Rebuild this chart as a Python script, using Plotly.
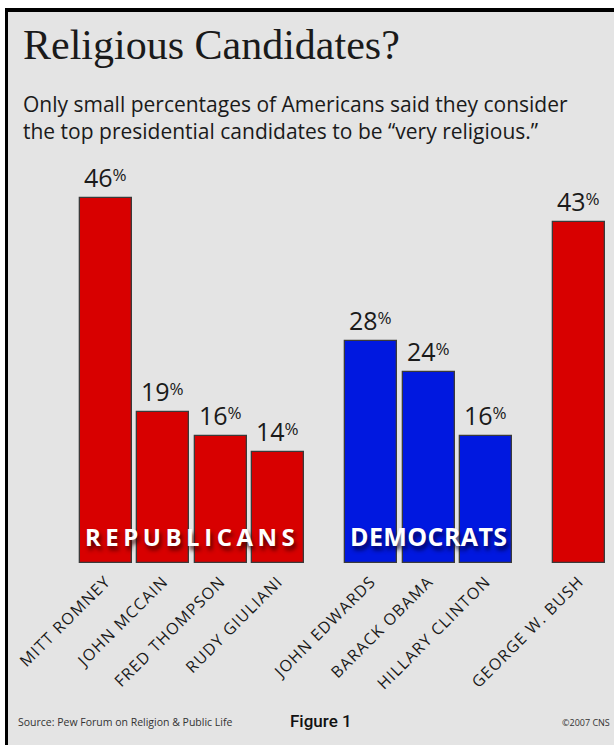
import plotly.graph_objects as go

# ---- data ----
rep_names = ["MITT ROMNEY", "JOHN MCCAIN", "FRED THOMPSON", "RUDY GIULIANI"]
rep_values = [46, 19, 16, 14]
dem_names = ["JOHN EDWARDS", "BARACK OBAMA", "HILLARY CLINTON"]
dem_values = [28, 24, 16]
bush_names = ["GEORGE W. BUSH"]
bush_values = [43]

W, H = 614, 745
RED = "#d80000"
BLUE = "#0018e0"
BG = "#e4e4e4"
INK = "#1a1a1a"

GAP = 0.62  # extra spacing between groups (in bar slots)
groups = [(rep_names, rep_values, RED), (dem_names, dem_values, BLUE), (bush_names, bush_values, RED)]

def fx(px):
    return px / W

def fy(py):
    return 1 - py / H

fig = go.Figure()
offset = 0.0
tickvals, ticktext = [], []
group_x = []
for names, vals, col in groups:
    xs = [offset + i for i in range(len(names))]
    group_x.append(xs)
    fig.add_trace(go.Bar(
        x=xs, y=vals, width=0.905,
        marker=dict(color=col, line=dict(color="#3a3a3a", width=1.3)),
        text=[f"{v}<span style='font-size:17px;baseline-shift:6px'>%</span>" for v in vals],
        textposition="outside", cliponaxis=False, constraintext="none",
        textfont=dict(family="Open Sans", size=25, color=INK),
        showlegend=False, hoverinfo="skip",
    ))
    tickvals += xs
    ticktext += [f"<span style='letter-spacing:1.2px'>{n}</span>" for n in names]
    offset = xs[-1] + 1 + GAP

# axis scale: x=0 at 106px, 57.4 px per slot
x0_px, slot = 106.0, 57.4
xr = [-x0_px / slot, (W - x0_px) / slot]

base_py, top_py = 563, 166
fig.update_layout(
    width=W, height=H,
    margin=dict(l=0, r=0, t=0, b=0),
    paper_bgcolor="white", plot_bgcolor="rgba(0,0,0,0)",
    bargap=0,
    xaxis=dict(range=xr, domain=[0, 1], tickvals=tickvals, ticktext=ticktext,
               tickangle=-45, showgrid=False, zeroline=False, showline=False,
               ticks="", ticklabelstandoff=5,
               tickfont=dict(family="Open Sans", size=16, color=INK)),
    yaxis=dict(range=[0, 50], domain=[fy(base_py), fy(top_py)], visible=False,
               showgrid=False, zeroline=False),
)

# background frame
fig.add_shape(type="rect", xref="paper", yref="paper", x0=fx(5), x1=fx(W + 20),
              y0=-0.2, y1=fy(8), fillcolor="#000000", line_width=0, layer="below")
fig.add_shape(type="rect", xref="paper", yref="paper", x0=fx(8), x1=fx(W + 20),
              y0=-0.2, y1=fy(12), fillcolor=BG, line_width=0, layer="below")

# title and subtitle
fig.add_annotation(xref="paper", yref="paper", x=fx(21), y=fy(70), xanchor="left", yanchor="bottom",
                   text="Religious Candidates?", showarrow=False,
                   font=dict(family="Liberation Serif", size=42, color=INK))
fig.add_annotation(xref="paper", yref="paper", x=fx(21), y=fy(88), xanchor="left", yanchor="top",
                   text="Only small percentages of Americans said they consider<br>the top presidential candidates to be \u201cvery religious.\u201d",
                   showarrow=False, align="left",
                   font=dict(family="Open Sans", size=21, color=INK))

# group labels
rep_center = (group_x[0][0] + group_x[0][-1]) / 2
dem_center = (group_x[1][0] + group_x[1][-1]) / 2
fig.add_annotation(xref="x", yref="paper", x=rep_center, y=fy(536), showarrow=False,
                   xanchor="center", yanchor="middle",
                   text="<span style='letter-spacing:4.5px'>REPUBLICANS</span>",
                   font=dict(family="Open Sans", size=24, color="white", weight="bold",
                             shadow="2px 4px 4px rgba(60,0,0,0.85)"))
fig.add_annotation(xref="x", yref="paper", x=dem_center, y=fy(536), showarrow=False,
                   xanchor="center", yanchor="middle",
                   text="<span style='letter-spacing:0.4px'>DEMOCRATS</span>",
                   font=dict(family="Open Sans", size=25, color="white", weight="bold",
                             shadow="2px 4px 4px rgba(0,0,60,0.85)"))

# footer
fig.add_annotation(xref="paper", yref="paper", x=fx(16), y=fy(722), xanchor="left", yanchor="middle",
                   text="Source: Pew Forum on Religion & Public Life", showarrow=False,
                   font=dict(family="Open Sans", size=10.5, color="#333333"))
fig.add_annotation(xref="paper", yref="paper", x=fx(288), y=fy(721), xanchor="left", yanchor="middle",
                   text="Figure 1", showarrow=False,
                   font=dict(family="Roboto", size=17, color="#111111", weight=500))
fig.add_annotation(xref="paper", yref="paper", x=fx(612), y=fy(722), xanchor="right", yanchor="middle",
                   text="\u00a92007 CNS", showarrow=False,
                   font=dict(family="Open Sans", size=9, color="#333333"))

fig.write_html("out.html")
